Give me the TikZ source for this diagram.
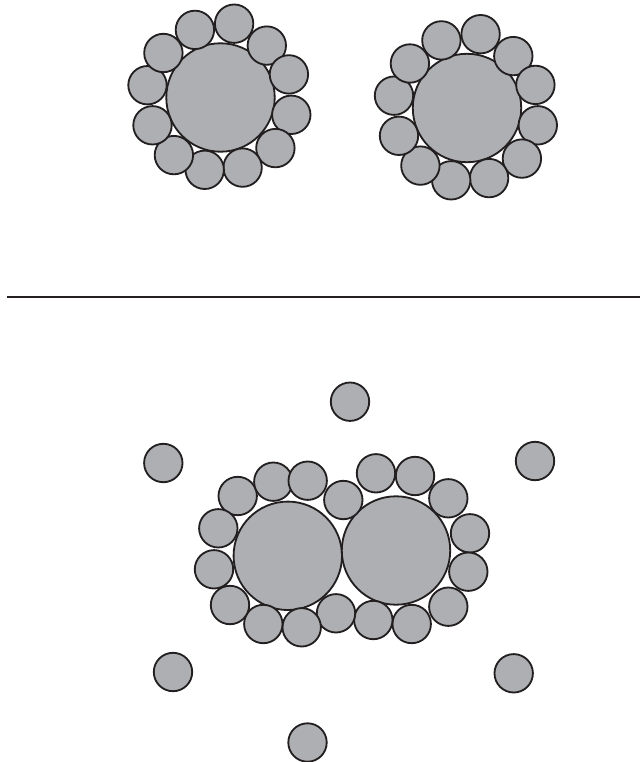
\documentclass[tikz,border=0pt]{standalone}
\usepackage{xcolor}

\definecolor{tablegray}{RGB}{173,175,178}
\definecolor{inkblack}{RGB}{35,31,32}

% seats round one table, offsets from the table centre (px)
\newcommand{\ringoffsets}{-25.6/-67.6, 13.6/-73.8, 46.3/-51.9, 68.4/-23.1,
    70.8/17.3, 54.9/50.6, 22.1/70.1, -15.8/72.3, -46.6/57.6, -68/27.8,
    -73/-12.3, -57.1/-44.5}

\tikzset{
    table/.style={circle, draw=inkblack, fill=tablegray, line width=1.3pt,
        minimum size=2.71cm, inner sep=0pt},
    seat/.style={circle, draw=inkblack, fill=tablegray, line width=1.3pt,
        minimum size=0.96cm, inner sep=0pt}
}

\begin{document}
\begin{tikzpicture}[x=0.025cm, y=-0.025cm]

            \useasboundingbox (0,0) rectangle (640,762);

            % round table, left
            \begin{scope}[shift={(220.5,97.5)}]
                \node[table] (T1) at (0,0) {};
                \foreach \dx/\dy [count=\i] in \ringoffsets
                    \node[seat] (s1-\i) at (\dx,\dy) {};
            \end{scope}

            % round table, right
            \begin{scope}[shift={(467,108)}]
                \node[table] (T2) at (0,0) {};
                \foreach \dx/\dy [count=\i] in \ringoffsets
                    \node[seat] (s2-\i) at (\dx,\dy) {};
            \end{scope}

            % divider
            \coordinate (divL) at (7,296.7);
            \coordinate (divR) at (640,296.7);
            \draw[inkblack, line width=1.5pt] (divL) -- (divR);

            % two tables pushed together
            \node[table] (T3) at (287.8,555.8) {};
            \node[table] (T4) at (396,550.5) {};
            \foreach \x/\y [count=\i] in {237.7/496, 273.3/481.7, 307.7/480.7,
                343.3/500, 376/473.3, 415/476, 448.3/498.3, 470/533.3,
                468.3/571.7, 448.3/606.7, 411.7/624, 373.3/620, 336/613.3,
                301.7/627.3, 263.3/624, 230/605, 214/569.3, 218.3/528.3}
                \node[seat] (s3-\i) at (\x,\y) {};

            % loose chairs
            \foreach \x/\y [count=\i] in {350/401.7, 163.3/463, 535/461,
                173/672, 513.7/673.3, 307.5/742.5}
                \node[seat] (c\i) at (\x,\y) {};

        \end{tikzpicture}
\end{document}
